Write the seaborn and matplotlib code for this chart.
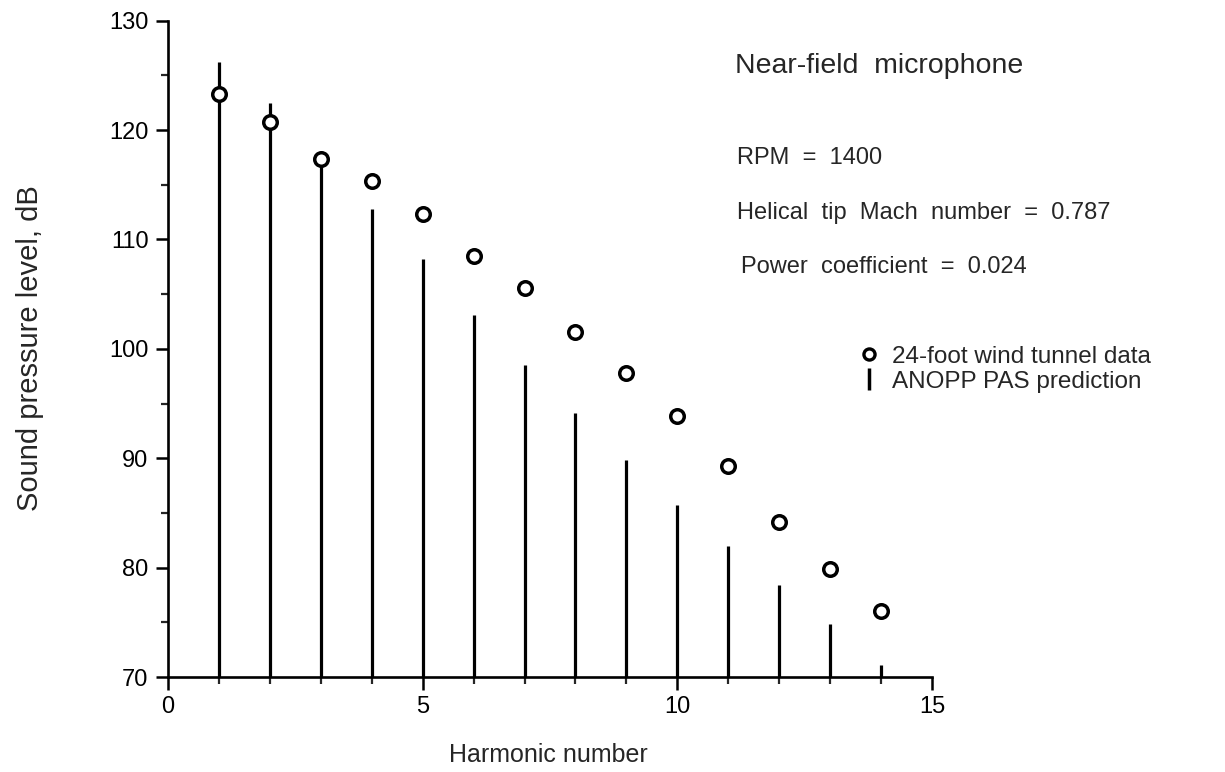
import numpy as np
import pandas as pd
import seaborn as sns
import matplotlib.pyplot as plt
from matplotlib.lines import Line2D
from matplotlib.ticker import MultipleLocator

# Datos
harmonic = [1, 2, 3, 4, 5, 6, 7, 8, 9, 10, 11, 12, 13, 14]
measured_db = [123.3, 120.7, 117.4, 115.3, 112.3, 108.5, 105.6, 101.5, 97.8, 93.9, 89.3, 84.2, 79.9, 76.0]
predicted_db = [126.2, 122.5, 117.3, 112.8, 108.2, 103.1, 98.5, 94.1, 89.8, 85.7, 82.0, 78.4, 74.8, 71.1]

info_lines = ["RPM  =  1400", "Helical  tip  Mach  number  =  0.787", "Power  coefficient  =  0.024"]

sns.set_style("ticks")
plt.rcParams['font.family'] = ['Liberation Sans', 'DejaVu Sans']

df = pd.DataFrame({'harmonic': harmonic, 'measured': measured_db, 'predicted': predicted_db})

fig = plt.figure(figsize=(12.25, 7.72), dpi=100)
ax = fig.add_axes([168 / 1225, 1 - 677 / 772, (932 - 168) / 1225, (677 - 20.7) / 772])

# ANOPP prediction: stems from the 70 dB baseline
ax.vlines(df['harmonic'], 70, df['predicted'], colors='black', linewidth=2.3, zorder=2)

# wind tunnel data: open circles
sns.scatterplot(data=df, x='harmonic', y='measured', ax=ax, marker='o', s=95,
                facecolor='white', edgecolor='black', linewidth=2.5, zorder=3, legend=False)

ax.set_xlim(0, 15)
ax.set_ylim(70, 130)
ax.xaxis.set_major_locator(MultipleLocator(5))
ax.xaxis.set_minor_locator(MultipleLocator(1))
ax.yaxis.set_major_locator(MultipleLocator(10))
ax.yaxis.set_minor_locator(MultipleLocator(5))
ax.tick_params(which='major', length=9, width=1.8, labelsize=17, colors='black', pad=5)
ax.tick_params(which='minor', length=5, width=1.6)
for side in ['left', 'bottom']:
    ax.spines[side].set_linewidth(1.9)
    ax.spines[side].set_color('black')
sns.despine(ax=ax)

ax.set_xlabel('')
ax.set_ylabel('')
fig.text(548 / 1225, 1 - 755 / 772, 'Harmonic number', ha='center', va='center', fontsize=18)
fig.text(30 / 1225, 1 - 348 / 772, 'Sound pressure level, dB', ha='center', va='center',
         rotation=90, fontsize=21)

fig.text(735 / 1225, 1 - 66 / 772, 'Near-field  microphone', ha='left', va='center', fontsize=20.5)
for txt, ypix, xpix in zip(info_lines, [158, 213, 267], [737, 737, 741]):
    fig.text(xpix / 1225, 1 - ypix / 772, txt, ha='left', va='center', fontsize=17)

handles = [
    Line2D([], [], linestyle='none', marker='o', markersize=8, markerfacecolor='white',
           markeredgecolor='black', markeredgewidth=2.4),
    Line2D([], [], linestyle='none', marker='|', markersize=16, markeredgewidth=2.5,
           color='black'),
]
fig.legend(handles, ['24-foot wind tunnel data', 'ANOPP PAS prediction'], frameon=False,
           loc='upper left', bbox_to_anchor=(847 / 1225, 1 - 336 / 772), fontsize=17.5,
           handlelength=1.0, handletextpad=0.45, labelspacing=0.12, borderaxespad=0)

fig.savefig('out.png', dpi=100)
